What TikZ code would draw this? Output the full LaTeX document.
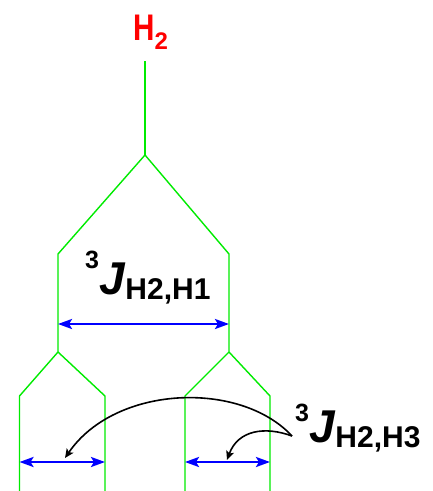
\documentclass[tikz,border=0pt]{standalone}
\usepackage{fontspec}
\setmainfont{Liberation Sans}
\usetikzlibrary{arrows.meta}
\definecolor{sg}{RGB}{0,235,0}
\definecolor{sb}{RGB}{0,0,255}
\definecolor{sr}{RGB}{255,0,0}
\newcommand{\jlab}[2]{\bfseries\raisebox{#2}{\fontsize{25}{25}\selectfont 3}\fontsize{46}{46}\selectfont\textit{J}\raisebox{-5pt}{\fontsize{30}{30}\selectfont #1}}
\begin{document}
\begin{tikzpicture}[x=1pt,y=-1pt,
  gline/.style={draw=sg,line width=1.4pt},
  jarrow/.style={draw=sb,line width=2.6pt,{Stealth[length=14pt,width=10pt,inset=3pt]}-{Stealth[length=14pt,width=10pt,inset=3pt]}},
  carrow/.style={draw=black,line width=1.6pt,-{Stealth[length=9pt,width=8pt,inset=2pt]}},
  lab/.style={inner sep=0pt,anchor=base west}]
\useasboundingbox (0,0) rectangle (432,491);
% coordinates
\coordinate (top) at (145,61);
\coordinate (a) at (145,155);
\coordinate (l) at (58,254);
\coordinate (r) at (229,254);
\coordinate (l2) at (58,352);
\coordinate (r2) at (229,352);
\coordinate (ll) at (19.5,396);
\coordinate (lr) at (105,396);
\coordinate (rl) at (185,396);
\coordinate (rr) at (270,396);
\coordinate (llb) at (19.5,491);
\coordinate (lrb) at (105,491);
\coordinate (rlb) at (185,491);
\coordinate (rrb) at (270,491);
% tree
\draw[gline] (top) -- (a);
\draw[gline] (a) -- (l) -- (l2);
\draw[gline] (a) -- (r) -- (r2);
\draw[gline] (l2) -- (ll) -- (llb);
\draw[gline] (l2) -- (lr) -- (lrb);
\draw[gline] (r2) -- (rl) -- (rlb);
\draw[gline] (r2) -- (rr) -- (rrb);
% coupling arrows
\coordinate (j1a) at (58,324);
\coordinate (j1b) at (229,324);
\coordinate (j2a) at (19.5,462);
\coordinate (j2b) at (105,462);
\coordinate (j3a) at (185,462);
\coordinate (j3b) at (270,462);
\draw[jarrow] (j1a) -- (j1b);
\draw[jarrow] (j2a) -- (j2b);
\draw[jarrow] (j3a) -- (j3b);
% labels
\node[lab,text=sr] (h2) at (133,40) {\bfseries\scalebox{0.8}[1]{\fontsize{37}{37}\selectfont H}\raisebox{-9pt}{\fontsize{24}{24}\selectfont 2}};
\node[lab] (lab1) at (85,294) {\jlab{H2,H1}{26pt}};
\node[lab] (lab2) at (295,442) {\jlab{H2,H3}{21pt}};
% curved arrows
\coordinate (src) at (292,436);
\coordinate (t1) at (65,458);
\coordinate (t2) at (227,460);
\draw[carrow] (src) .. controls (240,380) and (115,385) .. (t1);
\draw[carrow] (src) .. controls (265,426) and (238,430) .. (t2);
\end{tikzpicture}
\end{document}
